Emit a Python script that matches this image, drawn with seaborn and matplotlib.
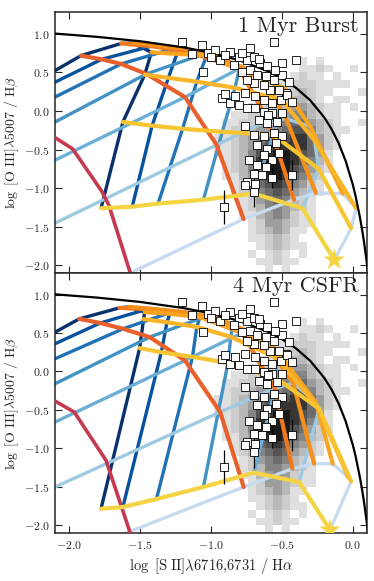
import numpy as np
import pandas as pd
import matplotlib
matplotlib.use("Agg")
from matplotlib import pyplot as plt
import seaborn as sns

# ---- model grids: rows = metallicity lines (Z1..Z7), columns = ionization parameter (high -> low U)
burst_zx = [
    [-1.917, -1.77, -1.633, -1.455, -1.183, -0.96, -0.77],
    [-1.633, -1.42, -1.28, -1.08, -0.80, -0.60, -0.414],
    [-1.55, -1.33, -1.16, -0.94, -0.65, -0.47, -0.26],
    [-1.42, -1.24, -1.03, -0.80, -0.48, -0.30, -0.07],
    [-1.467, -1.30, -1.10, -0.83, -0.50, -0.27, 0.024],
    [-1.621, -1.415, -1.20, -0.92, -0.56, -0.24, -0.011],
    [-1.775, -1.555, -1.373, -1.053, -0.70, -0.354, -0.13],
]
burst_zy = [
    [0.717, 0.67, 0.61, 0.48, 0.18, -0.44, -1.40],
    [0.875, 0.84, 0.80, 0.72, 0.55, -0.12, -1.15],
    [0.88, 0.84, 0.80, 0.69, 0.47, -0.10, -1.06],
    [0.76, 0.74, 0.72, 0.54, 0.29, -0.20, -1.07],
    [0.47, 0.43, 0.38, 0.30, 0.14, -0.38, -1.26],
    [-0.143, -0.19, -0.23, -0.27, -0.31, -0.75, -1.52],
    [-1.26, -1.24, -1.20, -1.15, -1.07, -1.26, -1.93],
]
csfr_zx = [
    [-1.929, -1.78, -1.62, -1.432, -1.183, -0.935, -0.769],
    [-1.645, -1.45, -1.28, -1.06, -0.78, -0.55, -0.425],
    [-1.58, -1.38, -1.18, -0.95, -0.65, -0.42, -0.272],
    [-1.467, -1.29, -1.077, -0.85, -0.55, -0.26, -0.141],
    [-1.475, -1.31, -1.10, -0.86, -0.54, -0.25, -0.03],
    [-1.503, -1.35, -1.13, -0.88, -0.53, -0.236, -0.011],
    [-1.775, -1.621, -1.384, -1.053, -0.698, -0.378, -0.16],
]
csfr_zy = [
    [0.684, 0.63, 0.555, 0.447, 0.143, -0.527, -1.502],
    [0.827, 0.81, 0.77, 0.70, 0.50, -0.22, -1.264],
    [0.84, 0.81, 0.77, 0.69, 0.45, -0.15, -1.199],
    [0.771, 0.75, 0.706, 0.56, 0.30, -0.40, -1.199],
    [0.68, 0.64, 0.58, 0.45, 0.18, -0.45, -1.38],
    [0.303, 0.25, 0.19, 0.11, -0.10, -0.485, -1.43],
    [-1.784, -1.762, -1.658, -1.502, -1.316, -1.437, -2.06],
]
# where the ionization-parameter lines enter the frame
burst_ux = [-2.1, -2.1, -2.1, -2.1, -2.1, -2.1, -1.57]
burst_uy = [0.523, 0.373, 0.18, -0.143, -0.637, -1.453, -2.1]
csfr_ux = [-2.1, -2.1, -2.1, -2.1, -2.1, -2.1, -1.60]
csfr_uy = [0.51, 0.36, 0.165, -0.16, -0.658, -1.502, -2.1]

# lowest metallicity line
burst_crim_x = [-2.107, -1.976, -1.77, -1.72, -1.56]
burst_crim_y = [-0.336, -0.49, -1.04, -1.22, -2.15]
csfr_crim_x = [-2.107, -1.964, -1.74, -1.56]
csfr_crim_y = [-0.377, -0.528, -1.156, -2.15]

burst_star = (-0.13, -1.93)
csfr_star = (-0.16, -2.06)

# maximum starburst line
max_x = [-2.1, -1.8, -1.5, -1.2, -1.0, -0.8, -0.6, -0.5, -0.4, -0.3, -0.2, -0.15,
         -0.1, -0.05, 0.0, 0.02, 0.05, 0.065, 0.08, 0.1, 0.11]
max_y = [1.003, 0.96, 0.904, 0.826, 0.755, 0.657, 0.517, 0.422, 0.30, 0.139, -0.085, -0.232,
         -0.414, -0.646, -0.95, -1.10, -1.369, -1.524, -1.70, -1.973, -2.129]

# observed galaxies (white squares)
obj_x = [-1.207, -1.065, -0.556, -1.136, -1.018, -0.970, -0.864, -0.722, -0.804, -0.745,
         -0.698, -0.651, -0.603, -0.497, -0.402, -1.053, -0.935, -0.84, -0.781, -0.722,
         -0.674, -0.615, -0.556, -0.497, -0.473, -0.521, -0.58, -0.627, -0.698, -0.745,
         -0.923, -0.864, -0.805, -0.746, -0.828, -0.757, -0.686, -0.627, -0.568, -0.509,
         -0.461, -0.426, -0.686, -0.627, -0.568, -0.497, -0.757, -0.663, -0.603, -0.532,
         -0.698, -0.627, -0.556, -0.497, -0.674, -0.603, -0.544, -0.627, -0.568, -0.734,
         -0.674, -0.615, -0.698, -0.639, -0.745, -0.686, -0.568, -0.757, -0.698, -0.426,
         -0.911, -1.0, -0.90, -0.78, -0.66, -0.55, -0.90, -0.45, -0.60, -0.52]
obj_y = [0.90, 0.857, 0.90, 0.74, 0.75, 0.79, 0.77, 0.81, 0.70, 0.66,
         0.70, 0.62, 0.58, 0.62, 0.66, 0.51, 0.66, 0.60, 0.51, 0.53,
         0.47, 0.45, 0.40, 0.47, 0.23, 0.27, 0.27, 0.34, 0.36, 0.40,
         0.165, 0.10, 0.078, 0.035, 0.19, 0.23, 0.19, 0.14, 0.10, 0.14,
         0.21, 0.12, 0.035, -0.01, -0.03, -0.03, -0.20, -0.12, -0.16, -0.14,
         -0.31, -0.33, -0.29, -0.33, -0.44, -0.49, -0.42, -0.57, -0.64, -0.64,
         -0.70, -0.72, -0.81, -0.83, -0.92, -0.94, -0.87, -0.96, -1.05, -0.83,
         -1.24, 0.70, 0.73, 0.75, 0.68, 0.53, 0.22, 0.38, -0.05, -0.55]
obj_err = [0.0] * 66 + [0.13, 0.0, 0.2, 0.2, 0.22] + [0.0] * 9

# SDSS star-forming galaxies, counts per cell (x from -1.07 step 0.06, y from 0.75 step -0.1)
sdss_rows = [
    "00000000000000000000",
    "00000000000010100000",
    "00000000000011210010",
    "00000000000121101000",
    "00000000011222111100",
    "00000000112232110001",
    "00000001122332101100",
    "00000011223443211010",
    "00001122334553211000",
    "00011223345664321001",
    "00012234456775321100",
    "00112345667886421000",
    "00112346788886421000",
    "00112357899876410000",
    "00012358999875310000",
    "00012358999764210000",
    "00011347898653200000",
    "00001246787542100000",
    "00001235676432100000",
    "00000124565321000000",
    "00000123554321000000",
    "00000113454211000000",
    "00000012443211000000",
    "00000012343110000000",
    "00000011232100000000",
    "00000001232110000000",
    "00000010121010000000",
    "00000001121100000000",
    "00000000101000000000",
    "00000000000000000000",
]

blues = ['#08306b', '#08519c', '#2171b5', '#4292c6', '#6baed6', '#9ecae1', '#c6dbef']
z_colors = ['#e8612c', '#ef7a1e', '#f48f1c', '#f9a41e', '#fab428', '#f8c532', '#f5d443']
crimson = '#c53a50'

cells = []
for r, row in enumerate(sdss_rows):
    for c, ch in enumerate(row):
        if ch != '0':
            cells.append((-1.07 + 0.06 * c, 0.75 - 0.1 * r, int(ch)))
sdss = pd.DataFrame(cells, columns=['x', 'y', 'n'])

sns.set_style("ticks")
plt.rcParams['font.family'] = ['cmr10', 'DejaVu Serif']
plt.rcParams['mathtext.fontset'] = 'cm'
plt.rcParams['axes.unicode_minus'] = False
plt.rcParams['axes.formatter.use_mathtext'] = True


def draw_panel(ax, zx, zy, ux, uy, crim_x, crim_y, star, title):
    sns.histplot(data=sdss, x='x', y='y', weights='n', binwidth=(0.06, 0.1),
                 binrange=((-1.1, 0.1), (-2.2, 0.8)), cmap='Greys', vmin=-1.5, vmax=10,
                 ax=ax, zorder=1)
    for j in range(7):
        xs = [ux[j]] + [zx[i][j] for i in range(7)]
        ys = [uy[j]] + [zy[i][j] for i in range(7)]
        sns.lineplot(x=xs, y=ys, sort=False, estimator=None, color=blues[j], lw=2.4,
                     ax=ax, zorder=2)
    sns.lineplot(x=crim_x, y=crim_y, sort=False, estimator=None, color=crimson, lw=2.6,
                 ax=ax, zorder=3)
    for i in range(7):
        sns.lineplot(x=zx[i], y=zy[i], sort=False, estimator=None, color=z_colors[i],
                     lw=3.0, ax=ax, zorder=3)
    sns.lineplot(x=max_x, y=max_y, sort=False, estimator=None, color='black', lw=1.6,
                 ax=ax, zorder=4)
    ex = [x for x, e in zip(obj_x, obj_err) if e > 0]
    ey = [y for y, e in zip(obj_y, obj_err) if e > 0]
    ee = [e for e in obj_err if e > 0]
    ax.errorbar(ex, ey, yerr=ee, fmt='none', ecolor='black', elinewidth=0.9, zorder=5)
    sns.scatterplot(x=obj_x, y=obj_y, marker='s', color='white', edgecolor='black',
                    s=30, linewidth=0.6, ax=ax, zorder=6)
    sns.scatterplot(x=[star[0]], y=[star[1]], marker='*', color=z_colors[6], edgecolor='none',
                    s=260, ax=ax, zorder=7)

    ax.set_xlim(-2.1, 0.1)
    ax.set_ylim(-2.1, 1.28)
    ax.set_xticks([-2.0, -1.5, -1.0, -0.5, 0.0])
    ax.set_yticks([-2.0, -1.5, -1.0, -0.5, 0.0, 0.5, 1.0])
    ax.tick_params(direction='in', top=True, right=True, length=5, width=0.8,
                   labelsize=8.5, pad=4)
    for s in ax.spines.values():
        s.set_linewidth(1.1)
    ax.set_xlabel('')
    ax.set_ylabel(r'$\log\ [\mathrm{O\ III}]\lambda5007\ /\ \mathrm{H}\beta$', fontsize=10,
                  labelpad=2)
    ax.text(0.975, 0.985, title, transform=ax.transAxes, ha='right', va='top', fontsize=16)


fig = plt.figure(figsize=(3.74, 5.81), dpi=100)
ax_top = fig.add_axes([0.147, 0.530, 0.834, 0.449])
ax_bot = fig.add_axes([0.147, 0.0826, 0.834, 0.4475])

draw_panel(ax_top, burst_zx, burst_zy, burst_ux, burst_uy, burst_crim_x, burst_crim_y,
           burst_star, '1 Myr Burst')
draw_panel(ax_bot, csfr_zx, csfr_zy, csfr_ux, csfr_uy, csfr_crim_x, csfr_crim_y,
           csfr_star, '4 Myr CSFR')

ax_top.tick_params(labelbottom=False)
ax_bot.set_xlabel(r'$\log\ [\mathrm{S\ II}]\lambda6716{,}6731\ /\ \mathrm{H}\alpha$', fontsize=10.5)

plt.savefig("out.png", dpi=100)
